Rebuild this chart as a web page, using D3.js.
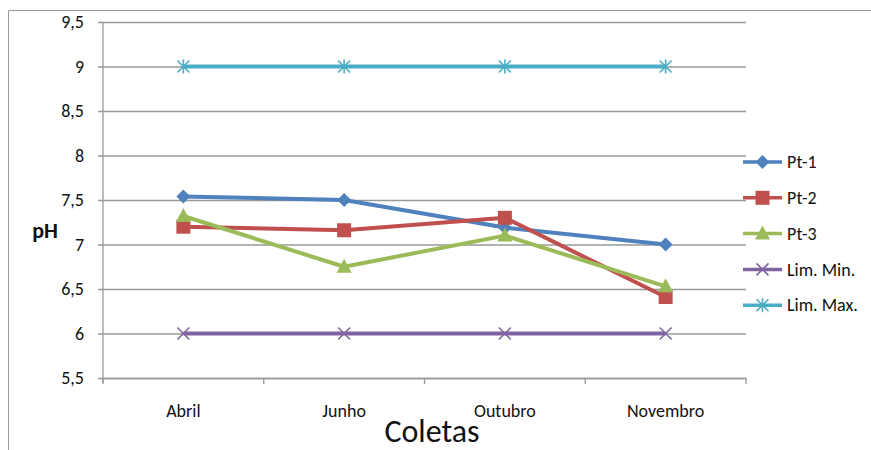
<!DOCTYPE html>
<html>
<head>
<meta charset="utf-8">
<script src="https://cdn.jsdelivr.net/npm/d3@7"></script>
<style>
  html, body { margin: 0; padding: 0; background: #fff; }
  svg { display: block; font-family: Carlito, Lato, sans-serif; }
</style>
</head>
<body>
<svg id="chart" width="871" height="450"></svg>
<script>
// pH per sampling campaign
const categories = ["Abril", "Junho", "Outubro", "Novembro"];
const pt1 = [7.54, 7.50, 7.19, 7.00];
const pt2 = [7.20, 7.16, 7.30, 6.41];
const pt3 = [7.32, 6.75, 7.10, 6.53];
const limMin = [6, 6, 6, 6];
const limMax = [9, 9, 9, 9];
const yTicks = [5.5, 6, 6.5, 7, 7.5, 8, 8.5, 9, 9.5];

const series = [
  { name: "Pt-1", values: pt1, color: "#4F81BD", symbol: "diamond" },
  { name: "Pt-2", values: pt2, color: "#C0504D", symbol: "square" },
  { name: "Pt-3", values: pt3, color: "#9BBB59", symbol: "triangle" },
  { name: "Lim. Min.", values: limMin, color: "#8064A2", symbol: "x" },
  { name: "Lim. Max.", values: limMax, color: "#4BACC6", symbol: "star" }
];

const FONT = "Carlito, Lato, sans-serif";
const svg = d3.select("#chart");
const plot = { left: 103, right: 746, top: 22, bottom: 378 };

// outer chart frame
svg.append("path")
  .attr("d", "M8.5,460 V10.5 H880")
  .attr("fill", "none").attr("stroke", "#9a9a9a").attr("stroke-width", 1);

const x = d3.scaleBand().domain(categories).range([plot.left, plot.right]);
const y = d3.scaleLinear().domain([5.5, 9.5]).range([plot.bottom, plot.top]);

// horizontal gridlines with outside ticks
const yAxis = svg.append("g")
  .attr("transform", `translate(${plot.left},0)`)
  .call(d3.axisLeft(y).tickValues(yTicks)
    .tickSize(-(plot.right - plot.left))
    .tickSizeOuter(0)
    .tickFormat(d => String(d).replace(".", ",")));
yAxis.select(".domain").remove();
yAxis.selectAll(".tick line")
  .attr("x1", -5)
  .attr("stroke", "#999").attr("stroke-width", 1.3);
yAxis.selectAll(".tick text")
  .attr("x", -19).attr("font-size", 18).attr("fill", "#111")
  .style("font-family", FONT);

// vertical axis line
svg.append("line")
  .attr("x1", plot.left).attr("x2", plot.left)
  .attr("y1", plot.top).attr("y2", plot.bottom + 5)
  .attr("stroke", "#999").attr("stroke-width", 1.3);

// category axis
const xAxis = svg.append("g")
  .attr("transform", `translate(0,${plot.bottom})`)
  .call(d3.axisBottom(x).tickSize(0).tickSizeOuter(0));
xAxis.select(".domain").attr("stroke", "#999").attr("stroke-width", 1.3);
xAxis.selectAll(".tick text")
  .attr("y", 26).attr("font-size", 18).attr("fill", "#111")
  .style("font-family", FONT);
// tick marks at category boundaries
const bounds = categories.map(c => x(c)).concat([x(categories[categories.length - 1]) + x.bandwidth()]);
svg.append("g").selectAll("line").data(bounds).join("line")
  .attr("x1", d => d).attr("x2", d => d)
  .attr("y1", plot.bottom).attr("y2", plot.bottom + 6)
  .attr("stroke", "#999").attr("stroke-width", 1.3);

const cx = c => x(c) + x.bandwidth() / 2;

function drawMarker(g, type, color) {
  if (type === "diamond") {
    g.append("path").attr("d", "M0,-7 L7,0 L0,7 L-7,0 Z").attr("fill", color);
  } else if (type === "square") {
    g.append("rect").attr("x", -7).attr("y", -7).attr("width", 14).attr("height", 14).attr("fill", color);
  } else if (type === "triangle") {
    g.append("path").attr("d", "M0,-8 L7.5,6 L-7.5,6 Z").attr("fill", color);
  } else if (type === "x") {
    g.append("path").attr("d", "M-6,-6 L6,6 M-6,6 L6,-6")
      .attr("stroke", color).attr("stroke-width", 1.6).attr("fill", "none");
  } else if (type === "star") {
    g.append("path").attr("d", "M-6,-6 L6,6 M-6,6 L6,-6 M0,-7 L0,7")
      .attr("stroke", color).attr("stroke-width", 1.6).attr("fill", "none");
  }
}

const line = d3.line().x((d, i) => cx(categories[i])).y(d => y(d));

series.forEach(s => {
  svg.append("path")
    .datum(s.values)
    .attr("d", line)
    .attr("fill", "none")
    .attr("stroke", s.color)
    .attr("stroke-width", 4)
    .attr("stroke-linejoin", "round");
  s.values.forEach((v, i) => {
    const g = svg.append("g").attr("transform", `translate(${cx(categories[i])},${y(v)})`);
    drawMarker(g, s.symbol, s.color);
  });
});

// legend
const legend = svg.append("g");
series.forEach((s, i) => {
  const ly = 162 + i * 35.8;
  legend.append("line")
    .attr("x1", 743).attr("x2", 782).attr("y1", ly).attr("y2", ly)
    .attr("stroke", s.color).attr("stroke-width", 3.5);
  const g = legend.append("g").attr("transform", `translate(762.5,${ly})`);
  drawMarker(g, s.symbol, s.color);
  legend.append("text")
    .attr("x", 787).attr("y", ly).attr("dy", "0.34em")
    .attr("font-size", 18).attr("fill", "#111")
    .text(s.name);
});

// axis titles
svg.append("text")
  .attr("x", 45).attr("y", 238)
  .attr("text-anchor", "middle")
  .attr("font-size", 22).attr("font-weight", "bold").attr("fill", "#111")
  .text("pH");

svg.append("text")
  .attr("x", 432).attr("y", 442)
  .attr("text-anchor", "middle")
  .attr("font-size", 32).attr("fill", "#111")
  .text("Coletas");
</script>
</body>
</html>
